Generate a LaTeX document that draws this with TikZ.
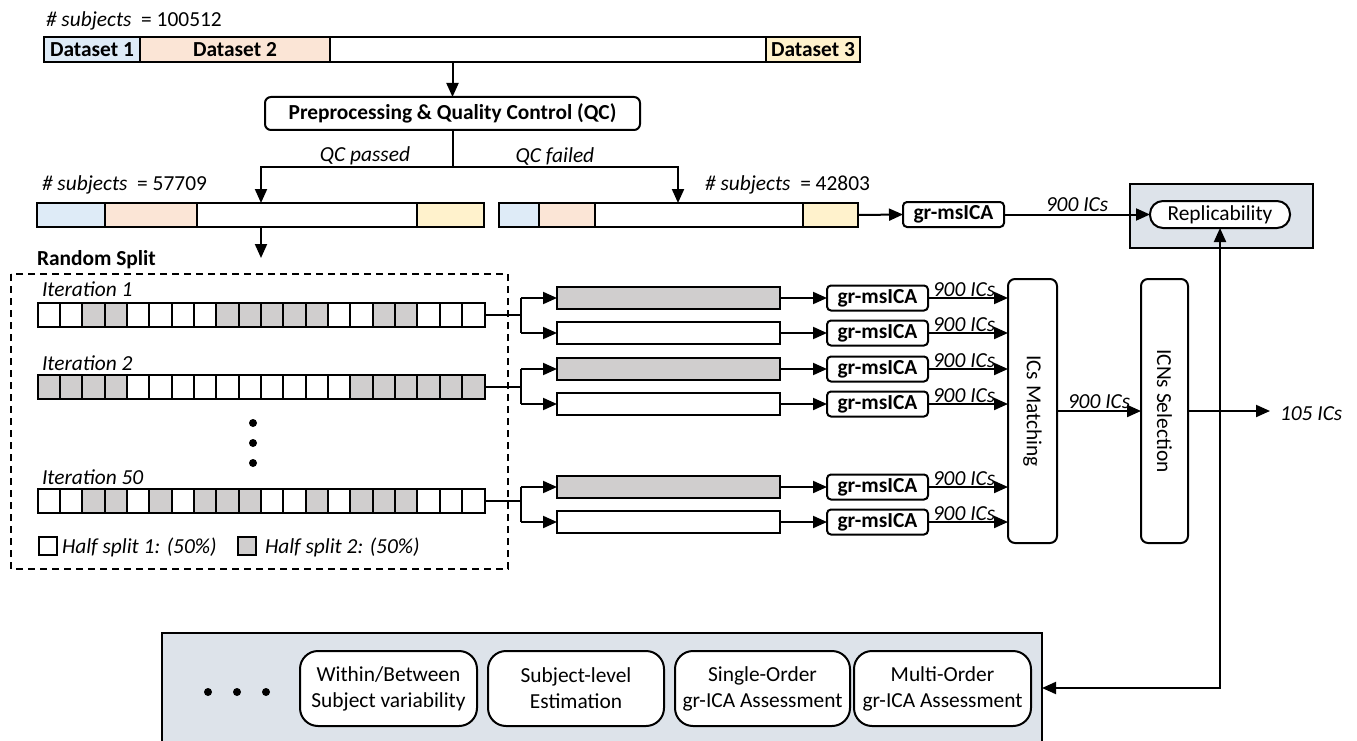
\documentclass[tikz,border=0pt]{standalone}
\usepackage{fontspec}
\setmainfont{Carlito}
\usepackage{graphicx}
\usetikzlibrary{arrows.meta,calc}
\definecolor{dblue}{HTML}{DEEBF7}
\definecolor{dpeach}{HTML}{FBE5D6}
\definecolor{dyellow}{HTML}{FFF2CC}
\definecolor{sgray}{HTML}{D0CECE}
\definecolor{panel}{HTML}{DDE3EA}
\begin{document}
\begin{tikzpicture}[x=1pt,y=-1pt,
  every node/.style={font=\fontsize{21.4}{26}\selectfont, inner sep=0pt, outer sep=0pt},
  seg/.style={draw, line width=2pt, anchor=north west, minimum height=25pt},
  bar/.style={draw, line width=2pt, anchor=north west, minimum height=22pt, minimum width=223pt},
  grbox/.style={draw, line width=2pt, rounded corners=4pt, anchor=north west, minimum height=25pt, minimum width=101pt, fill=white, font=\fontsize{21.4}{26}\selectfont\bfseries},
  sq/.style={draw, line width=2pt, anchor=north west, minimum height=24pt, minimum width=22.35pt},
  tall/.style={draw, line width=2pt, rounded corners=7pt, anchor=north west, minimum height=264pt},
  outbox/.style={draw, line width=2pt, rounded corners=18pt, anchor=north west, minimum height=75pt, fill=white, align=center},
  ln/.style={line width=2pt},
  arr/.style={line width=2pt, -{Triangle[length=14pt,width=12pt]}},
  lab/.style={font=\fontsize{21.4}{26}\selectfont\itshape},
  dot/.style={fill=black, circle, minimum size=8pt}
]
\useasboundingbox (0,0) rectangle (1357,741);

% top dataset bar
\node[anchor=west] (s0) at (46,21) {{\itshape \# subjects}\ \ = 100512};
\node[seg, fill=dblue, minimum width=96pt] (d1) at (44,37) {\bfseries Dataset 1};
\node[seg, fill=dpeach, minimum width=190pt] (d2) at (140,37) {\bfseries Dataset 2};
\node[seg, fill=white, minimum width=436pt] (dw) at (330,37) {};
\node[seg, fill=dyellow, minimum width=94pt] (d3) at (766,37) {\bfseries Dataset 3};

% QC
\node[draw, line width=2pt, rounded corners=6pt, anchor=north west, minimum width=375pt, minimum height=33pt] (qc) at (265,97) {\bfseries Preprocessing \& Quality Control (QC)};
\draw[arr] (qc.north |- dw.south) -- (qc.north);

\coordinate (sp) at (452.5,167);
\coordinate (pin) at (261,203);
\coordinate (fin) at (678,203);
\draw[ln] (qc.south) -- (sp);
\draw[arr] (sp) -| (pin);
\draw[arr] (sp) -| (fin);
\node[lab] (qcp) at (365,156) {QC passed};
\node[lab] (qcf) at (555,156) {QC failed};

% passed / failed bars
\node[anchor=west] (s1) at (42,185) {{\itshape \# subjects}\ \ = 57709};
\node[anchor=west] (s2) at (705,185) {{\itshape \# subjects}\ \ = 42803};
\node[seg, minimum height=24pt, fill=dblue, minimum width=68pt] (p1) at (37,203) {};
\node[seg, minimum height=24pt, fill=dpeach, minimum width=92pt] (p2) at (105,203) {};
\node[seg, minimum height=24pt, fill=white, minimum width=220pt] (pw) at (197,203) {};
\node[seg, minimum height=24pt, fill=dyellow, minimum width=67pt] (p3) at (417,203) {};
\node[seg, minimum height=24pt, fill=dblue, minimum width=40pt] (f1) at (499,203) {};
\node[seg, minimum height=24pt, fill=dpeach, minimum width=56pt] (f2) at (539,203) {};
\node[seg, minimum height=24pt, fill=white, minimum width=208pt] (fw) at (595,203) {};
\node[seg, minimum height=24pt, fill=dyellow, minimum width=55pt] (f3) at (803,203) {};

% failed branch -> replicability
\node[grbox] (gr0) at (903,202) {gr-msICA};
\draw[arr] (f3.east) -- (gr0.west);
\node[draw, line width=2pt, fill=panel, anchor=north west, minimum width=183pt, minimum height=64pt] (rbg) at (1130,184) {};
\node[draw, line width=2pt, fill=white, rounded corners=13pt, anchor=north west, minimum width=140pt, minimum height=27pt] (repl) at (1150,201) {Replicability};
\draw[arr] (gr0.east) -- node[lab, above=3pt, pos=0.5] {900 ICs} (gr0.east -| repl.west);

% random split
\coordinate (rs) at (261,258);
\draw[arr] (pw.south -| rs) -- (rs);
\node[anchor=west, font=\fontsize{21.4}{26}\selectfont\bfseries] (rst) at (37,260) {Random Split};
\draw[line width=2pt, dash pattern=on 7pt off 5pt] (11,274) rectangle (508,569);

\node[lab, anchor=west] (it1) at (42,289) {Iteration 1};
\node[lab, anchor=west] (it2) at (42,363) {Iteration 2};
\node[lab, anchor=west] (it3) at (42,477) {Iteration 50};

\foreach \c [count=\i] in {white,white,sgray,sgray,white,white,white,white,sgray,sgray,sgray,sgray,sgray,white,white,sgray,sgray,white,white,white}
  {\node[sq, fill=\c] (ra\i) at ({37.5+(\i-1)*22.35},303) {};}
\foreach \c [count=\i] in {sgray,sgray,sgray,sgray,white,white,white,white,white,white,white,white,white,white,sgray,sgray,sgray,sgray,sgray,sgray}
  {\node[sq, fill=\c] (rb\i) at ({37.5+(\i-1)*22.35},375) {};}
\foreach \c [count=\i] in {white,white,sgray,sgray,white,sgray,white,sgray,sgray,sgray,white,white,sgray,white,sgray,sgray,sgray,white,white,white}
  {\node[sq, fill=\c] (rc\i) at ({37.5+(\i-1)*22.35},489) {};}

\node[dot] (dt1) at (253,423) {};
\node[dot] (dt2) at (253,443) {};
\node[dot] (dt3) at (253,463) {};

\node[draw, line width=2pt, fill=white, minimum size=18pt, anchor=north west] (lg1) at (38.5,537) {};
\node[lab, anchor=west] (lt1) at (62,547) {Half split 1: (50\%)};
\node[draw, line width=2pt, fill=sgray, minimum size=18pt, anchor=north west] (lg2) at (237.5,537) {};
\node[lab, anchor=west] (lt2) at (265,547) {Half split 2: (50\%)};

% half split bars
\node[bar, fill=sgray] (g1) at (557,287) {};
\node[bar, fill=white] (w1) at (557,322) {};
\node[bar, fill=sgray] (g2) at (557,358) {};
\node[bar, fill=white] (w2) at (557,393) {};
\node[bar, fill=sgray] (g3) at (557,476) {};
\node[bar, fill=white] (w3) at (557,511) {};

\draw[ln] (ra20.east) -- ++(36,0) coordinate (b1);
\draw[ln] (rb20.east) -- ++(36,0) coordinate (b2);
\draw[ln] (rc20.east) -- ++(36,0) coordinate (b3);
\draw[ln] (b1 |- g1.west) -- (b1 |- w1.west);
\draw[ln] (b2 |- g2.west) -- (b2 |- w2.west);
\draw[ln] (b3 |- g3.west) -- (b3 |- w3.west);
\draw[arr] (b1 |- g1.west) -- (g1.west);
\draw[arr] (b1 |- w1.west) -- (w1.west);
\draw[arr] (b2 |- g2.west) -- (g2.west);
\draw[arr] (b2 |- w2.west) -- (w2.west);
\draw[arr] (b3 |- g3.west) -- (g3.west);
\draw[arr] (b3 |- w3.west) -- (w3.west);

% matching and selection
\node[tall, minimum width=49pt] (icm) at (1008,279) {\rotatebox{-90}{ICs Matching}};
\node[tall, minimum width=47pt] (icn) at (1141,279) {\rotatebox{-90}{ICNs Selection}};

\foreach \b/\n in {g1/1,w1/2,g2/3,w2/4,g3/5,w3/6} {
  \node[grbox, anchor=west] (gr\n) at ($(\b.east)+(47,0)$) {gr-msICA};
  \draw[arr] (\b.east) -- (gr\n.west);
  \draw[arr] (gr\n.east) -- node[lab, above=1pt, pos=0.45] {900 ICs} (gr\n.east -| icm.west);
}

\draw[arr] (icm.east) -- node[lab, above=2pt] {900 ICs} (icn.west);
\node[lab, anchor=west, inner xsep=10pt] (o105) at (1270,414) {105 ICs};
\draw[arr] (icn.east) -- (icn.east -| o105.west);

% bottom panel
\node[draw, line width=2pt, fill=panel, anchor=north west, minimum width=880pt, minimum height=140pt] (bb) at (162,633) {};
\node[dot] (bd1) at (208,692) {};
\node[dot] (bd2) at (237,692) {};
\node[dot] (bd3) at (266,692) {};
\node[outbox, minimum width=177pt] (n1) at (300,651) {Within/Between\\Subject variability};
\node[outbox, minimum width=176pt] (n2) at (488,651) {Subject-level\\Estimation};
\node[outbox, minimum width=175pt] (n3) at (675,651) {Single-Order\\gr-ICA Assessment};
\node[outbox, minimum width=177pt] (n4) at (854,651) {Multi-Order\\gr-ICA Assessment};

\coordinate (cr) at (1220,688);
\draw[line width=2pt, {Triangle[length=14pt,width=12pt]}-{Triangle[length=14pt,width=12pt]}] (repl.south) -- (repl.south |- cr) -- (bb.east |- cr);
\end{tikzpicture}
\end{document}
